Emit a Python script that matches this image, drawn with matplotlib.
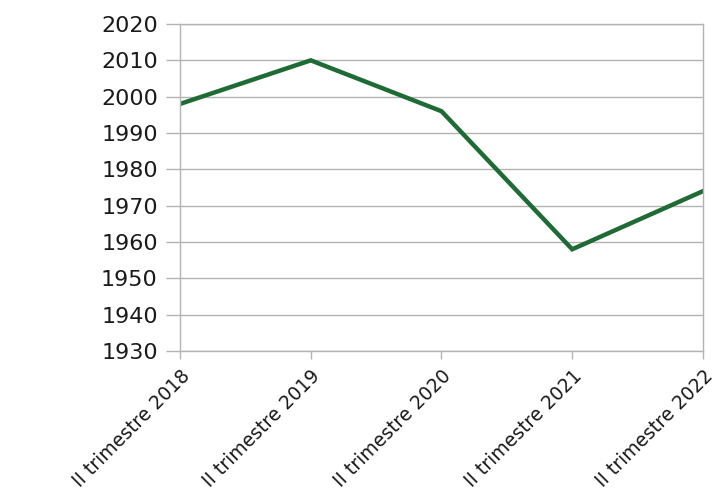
import matplotlib
matplotlib.use("Agg")
import matplotlib.pyplot as plt

categories = ["II trimestre 2018", "II trimestre 2019", "II trimestre 2020",
              "II trimestre 2021", "II trimestre 2022"]
values = [1998, 2010, 1996, 1958, 1974]
yticks = [1930, 1940, 1950, 1960, 1970, 1980, 1990, 2000, 2010, 2020]

plt.rcParams['font.family'] = ['DejaVu Sans']

fig = plt.figure(figsize=(7.16, 4.96), dpi=100)
ax = fig.add_axes([0.2514, 0.2923, 0.9818 - 0.2514, 0.9516 - 0.2923])

x = list(range(len(categories)))
ax.plot(x, values, color='#1f6b35', linewidth=3.2, solid_joinstyle='miter')

ax.set_xlim(0, len(categories) - 1)
ax.set_ylim(1930, 2020)
ax.set_yticks(yticks)
ax.set_xticks(x)
ax.set_xticklabels(categories, rotation=45, ha='right', rotation_mode='anchor')

ax.grid(axis='y', color='#b3b3b3', linewidth=1.0)
ax.set_axisbelow(True)
for s in ax.spines.values():
    s.set_color('#b3b3b3')
    s.set_linewidth(1.0)
ax.tick_params(axis='both', colors='#b3b3b3', labelcolor='#1a1a1a',
               width=1.0, direction='out')
ax.tick_params(axis='y', labelsize=16, length=10, pad=6)
ax.tick_params(axis='x', labelsize=13.5, length=6, pad=5)

fig.savefig('out.png', dpi=100)
